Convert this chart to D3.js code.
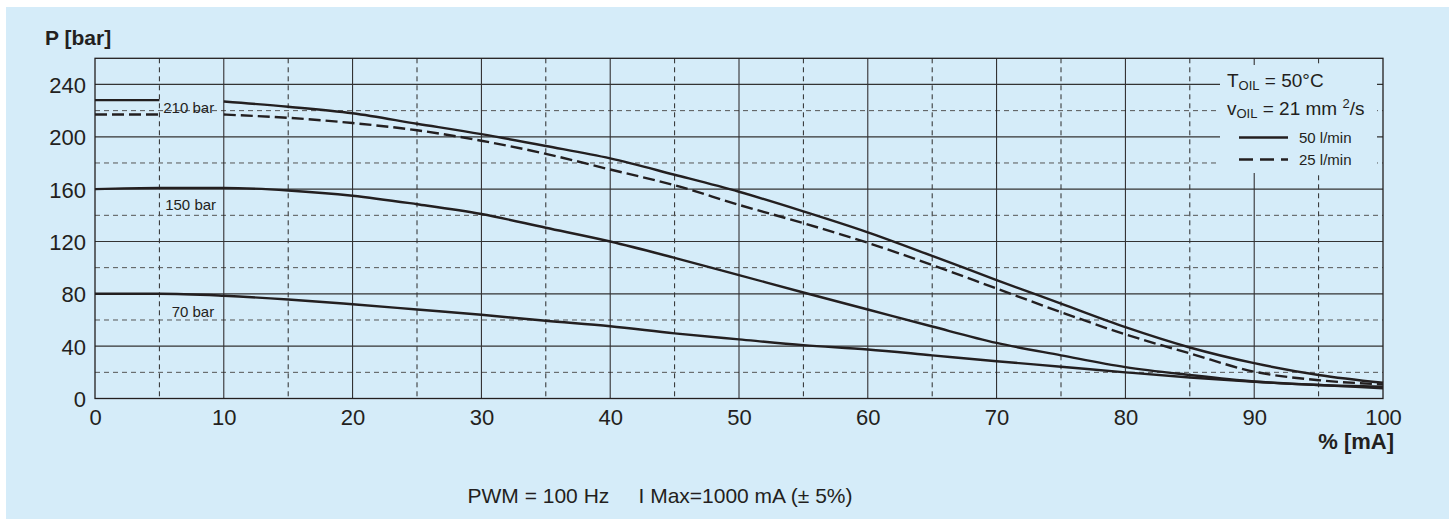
<!DOCTYPE html>
<html>
<head>
<meta charset="utf-8">
<script src="https://cdn.jsdelivr.net/npm/d3@7"></script>
<style>
  html, body { margin: 0; padding: 0; background: #ffffff; }
  svg { display: block; }
  text { font-family: "Liberation Sans", Arial, Helvetica, sans-serif; fill: #231f20; }
</style>
</head>
<body>
<script>
// Control current (% of I max) at which the pressure was read
const currentLow = [0, 5];
const currentMain = [10, 15, 20, 25, 30, 35, 40, 45, 50, 55, 60, 65, 70, 75, 80, 85, 90, 95, 100];
const currentAll = [0, 5].concat(currentMain);

// 210 bar setting, 50 l/min (solid) and 25 l/min (dashed)
const p210flow50Low = [228, 228];
const p210flow50 = [227, 223, 218, 210, 202, 193, 183.5, 171, 158, 143, 127, 109, 90.5, 72.5, 54.5, 39, 27, 18, 12];
const p210flow25Low = [217, 217];
const p210flow25 = [217, 214.5, 210.5, 205, 197, 187, 175, 163, 148, 134, 119, 102, 84, 66, 49, 34.5, 20.5, 14, 10.8];

// 150 bar and 70 bar settings, 50 l/min
const p150 = [160, 161, 161, 159, 155, 148.5, 141, 130.5, 120, 107.5, 94.3, 81, 68, 55, 42.5, 33, 24, 18, 13, 10.3, 9];
const p70 = [80, 80, 78.5, 75.7, 72, 68, 64, 59.4, 55.2, 49.8, 45.2, 40.8, 37.5, 33, 28.5, 24.3, 20, 16, 12.8, 10.3, 7.8];

// Axis ticks
const xTicks = [0, 10, 20, 30, 40, 50, 60, 70, 80, 90, 100];
const xMinor = [5, 15, 25, 35, 45, 55, 65, 75, 85, 95];
const yTicks = [0, 40, 80, 120, 160, 200, 240];
const yMinor = [20, 60, 100, 140, 180, 220];

const curveLabels = [
  { text: "210 bar", x: 5.3, y: 218 },
  { text: "150 bar", x: 5.45, y: 144 },
  { text: "70 bar", x: 5.95, y: 62.5 }
];

const W = 1449, H = 519;
const BG = "#d5ecf9";
const INK = "#231f20";

const svg = d3.select("body").append("svg")
  .attr("width", W).attr("height", H);

svg.append("rect").attr("x", 6).attr("y", 7)
  .attr("width", W - 6).attr("height", H - 7).attr("fill", BG);

const x = d3.scaleLinear().domain([0, 100]).range([95, 1383]);
const y = d3.scaleLinear().domain([0, 260]).range([398.5, 58.3]);

const grid = svg.append("g");

// minor dashed grid
grid.selectAll("line.vminor").data(xMinor).join("line")
  .attr("x1", d => x(d)).attr("x2", d => x(d))
  .attr("y1", y(260)).attr("y2", y(0))
  .attr("stroke", "#2a2a2a").attr("stroke-width", 1)
  .attr("stroke-dasharray", "5,4");
grid.selectAll("line.hminor").data(yMinor).join("line")
  .attr("x1", x(0)).attr("x2", x(100))
  .attr("y1", d => y(d)).attr("y2", d => y(d))
  .attr("stroke", "#555555").attr("stroke-width", 1)
  .attr("stroke-dasharray", "5,4");

// major solid grid
grid.selectAll("line.vmajor").data(xTicks.slice(1, -1)).join("line")
  .attr("x1", d => x(d)).attr("x2", d => x(d))
  .attr("y1", y(260)).attr("y2", y(0))
  .attr("stroke", INK).attr("stroke-width", 1);
grid.selectAll("line.hmajor").data(yTicks.slice(1)).join("line")
  .attr("x1", x(0)).attr("x2", x(100))
  .attr("y1", d => y(d)).attr("y2", d => y(d))
  .attr("stroke", "#333333").attr("stroke-width", 1.2);

// plot frame
svg.append("rect")
  .attr("x", x(0)).attr("y", y(260))
  .attr("width", x(100) - x(0)).attr("height", y(0) - y(260))
  .attr("fill", "none").attr("stroke", INK).attr("stroke-width", 1.3);

// legend area clears the grid behind it
svg.append("rect").attr("x", 1220).attr("y", 65)
  .attr("width", 157).attr("height", 108).attr("fill", BG);

// curves
const line = d3.line()
  .x(d => x(d[0])).y(d => y(d[1]))
  .curve(d3.curveMonotoneX);

const zip = (xs, ys) => xs.map((v, i) => [v, ys[i]]);

const series = [
  { pts: zip(currentLow, p210flow50Low), dash: null },
  { pts: zip(currentMain, p210flow50), dash: null },
  { pts: zip(currentLow, p210flow25Low), dash: "12,5" },
  { pts: zip(currentMain, p210flow25), dash: "12,5" },
  { pts: zip(currentAll, p150), dash: null },
  { pts: zip(currentAll, p70), dash: null }
];

svg.append("g").selectAll("path").data(series).join("path")
  .attr("d", d => line(d.pts))
  .attr("fill", "none").attr("stroke", INK).attr("stroke-width", 2.4)
  .attr("stroke-dasharray", d => d.dash);

// curve labels
svg.append("g").selectAll("text").data(curveLabels).join("text")
  .attr("x", d => x(d.x)).attr("y", d => y(d.y))
  .attr("font-size", 15)
  .text(d => d.text);

// axes (labels only; grid and frame drawn above)
const yAxis = svg.append("g").attr("transform", `translate(${x(0)},0)`)
  .call(d3.axisLeft(y).tickValues(yTicks).tickSize(0).tickPadding(9));
yAxis.select(".domain").remove();
yAxis.selectAll("text").attr("font-size", 22).attr("fill", INK)
  .attr("font-family", "Liberation Sans, Arial, sans-serif").attr("dy", "0.36em");

const xAxis = svg.append("g").attr("transform", `translate(0,${y(0)})`)
  .call(d3.axisBottom(x).tickValues(xTicks).tickSize(0).tickPadding(11));
xAxis.select(".domain").remove();
xAxis.selectAll("text").attr("font-size", 22).attr("fill", INK)
  .attr("font-family", "Liberation Sans, Arial, sans-serif");

// axis titles
svg.append("text").attr("x", 45).attr("y", 45)
  .attr("font-size", 21).attr("font-weight", "bold").text("P [bar]");
svg.append("text").attr("x", 1394).attr("y", 449)
  .attr("text-anchor", "end")
  .attr("font-size", 22).attr("font-weight", "bold").text("% [mA]");

// legend
const leg = svg.append("g");
const t1 = leg.append("text").attr("x", 1227).attr("y", 87).attr("font-size", 19);
t1.append("tspan").text("T");
t1.append("tspan").attr("font-size", 13).attr("dy", 3).text("OIL");
t1.append("tspan").attr("dy", -3).text(" = 50°C");

const t2 = leg.append("text").attr("x", 1227).attr("y", 115).attr("font-size", 19);
t2.append("tspan").text("v");
t2.append("tspan").attr("font-size", 13).attr("dy", 3).text("OIL");
t2.append("tspan").attr("dy", -3).text(" = 21 mm ");
t2.append("tspan").attr("font-size", 13).attr("dy", -7).text("2");
t2.append("tspan").attr("dy", 7).text("/s");

const legendRows = [
  { label: "50 l/min", dash: null, y: 137.5 },
  { label: "25 l/min", dash: "14,7", y: 159.5 }
];
leg.selectAll("line").data(legendRows).join("line")
  .attr("x1", 1239).attr("x2", 1288)
  .attr("y1", d => d.y).attr("y2", d => d.y)
  .attr("stroke", INK).attr("stroke-width", 2.4)
  .attr("stroke-dasharray", d => d.dash);
leg.selectAll("text.row").data(legendRows).join("text")
  .attr("class", "row")
  .attr("x", 1299).attr("y", d => d.y + 5)
  .attr("font-size", 15)
  .text(d => d.label);

// footer note
svg.append("text").attr("x", 660).attr("y", 503)
  .attr("text-anchor", "middle").attr("font-size", 21)
  .attr("xml:space", "preserve")
  .text("PWM = 100 Hz     I Max=1000 mA (± 5%)");
</script>
</body>
</html>
